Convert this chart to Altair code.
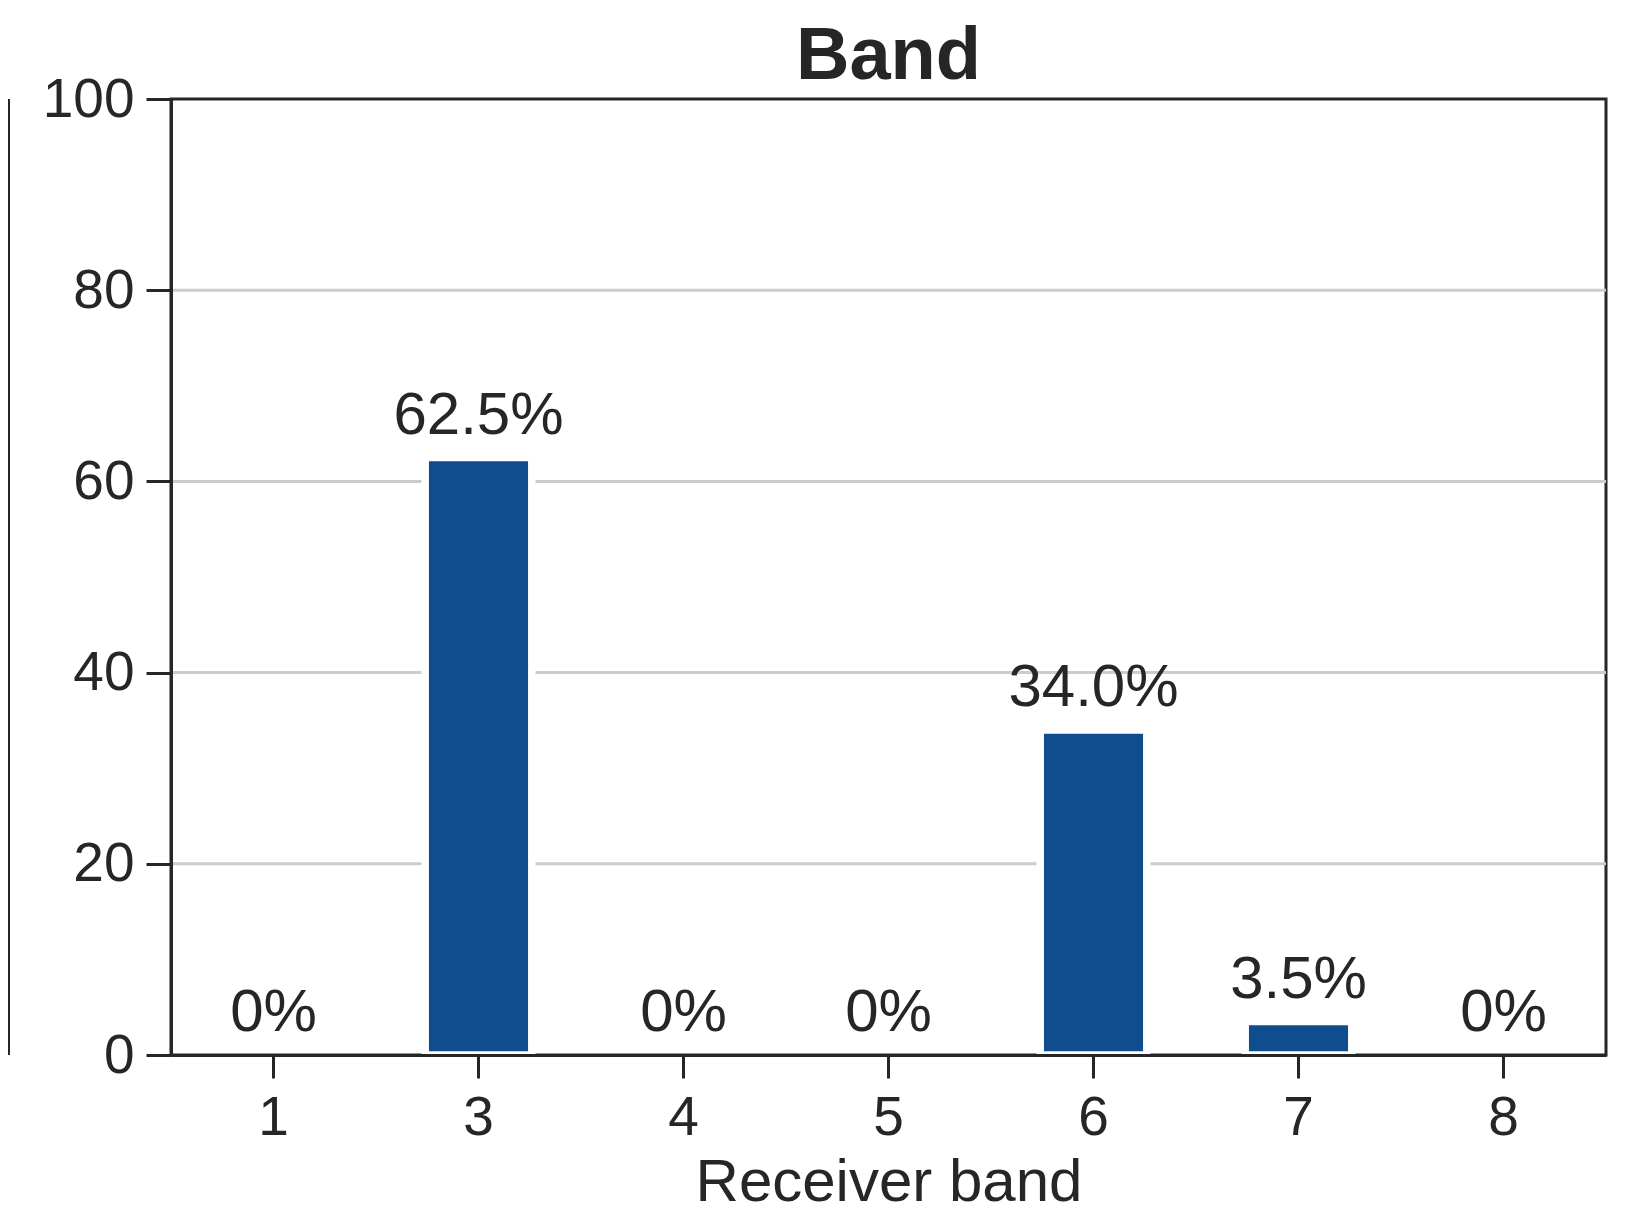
import altair as alt
import pandas as pd

bands = ["1", "3", "4", "5", "6", "7", "8"]
shares = [0, 62.5, 0, 0, 34.0, 3.5, 0]
labels = ["0%", "62.5%", "0%", "0%", "34.0%", "3.5%", "0%"]
y_ticks = [0, 20, 40, 60, 80, 100]
grid_vals = [20, 40, 60, 80]

df = pd.DataFrame({"band": bands, "share": shares, "label": labels})
grid_df = pd.DataFrame({"v": grid_vals})

W, H = 1435, 956
FONT = "Liberation Sans"
INK = "#262626"
BAR = "#104d8f"

xscale = alt.Scale(domain=bands, paddingInner=0.48, paddingOuter=0.24)
xaxis = alt.Axis(title="Receiver band", labelAngle=0, tickSize=23, tickWidth=3,
                 tickColor=INK, domainColor=INK, domainWidth=3, labelFontSize=55,
                 labelColor=INK, labelPadding=13, labelFont=FONT, titleFont=FONT,
                 titleFontSize=60, titleFontWeight="normal", titleColor=INK,
                 titlePadding=8, zindex=1, grid=False)
yscale = alt.Scale(domain=[0, 100], nice=False)
yaxis = alt.Axis(values=y_ticks, title=None, tickSize=25, tickWidth=3, tickColor=INK,
                 domainColor=INK, domainWidth=3, labelFontSize=55, labelColor=INK,
                 labelFont=FONT, labelPadding=12, zindex=1, grid=False)

grid = alt.Chart(grid_df).mark_rule(color="#cccccc", strokeWidth=3).encode(
    y=alt.Y("v:Q", scale=yscale, axis=yaxis)
)

bars = alt.Chart(df).transform_filter(alt.datum.share > 0).mark_bar(
    color=BAR, stroke="white", strokeWidth=7.5
).encode(
    x=alt.X("band:N", scale=xscale, axis=xaxis),
    y=alt.Y("share:Q", scale=yscale, axis=yaxis),
)

text = alt.Chart(df).mark_text(
    baseline="alphabetic", dy=-24, fontSize=60, font=FONT, color=INK
).encode(
    x=alt.X("band:N", scale=xscale, axis=xaxis),
    y=alt.Y("share:Q", scale=yscale, axis=yaxis),
    text="label:N",
)

edge = alt.Chart(df).mark_rule(color=INK, strokeWidth=2).encode(
    x=alt.value(-162), y=alt.value(0), y2=alt.value(H)
)

chart = alt.layer(grid, bars, text, edge).properties(
    width=W, height=H,
    title=alt.Title("Band", fontSize=74, fontWeight="bold", font=FONT, color=INK,
                    anchor="middle", offset=10, baseline="bottom", dy=107),
    padding={"left": 163, "top": 91, "right": 20, "bottom": 164},
    autosize=alt.AutoSizeParams(type="none"),
).configure_view(stroke=INK, strokeWidth=3)

chart.save("out.html", embed_options={"renderer": "svg", "actions": False})
